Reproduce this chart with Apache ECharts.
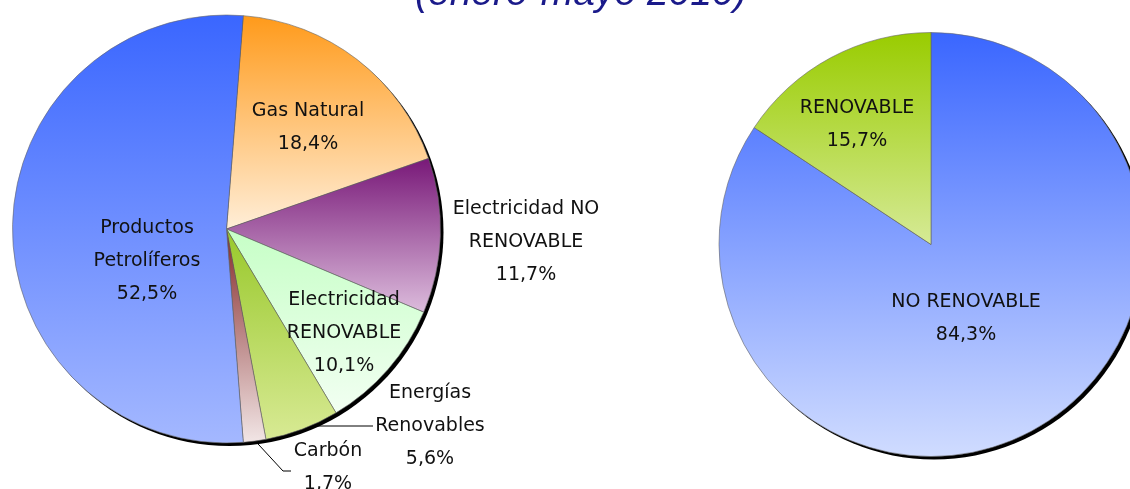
<!DOCTYPE html>
<html>
<head>
<meta charset="utf-8">
<title>Consumo de energía final (enero-mayo 2010)</title>
<script src="https://cdn.jsdelivr.net/npm/echarts@6/dist/echarts.min.js"></script>
<style>
  html, body { margin: 0; padding: 0; background: #fff; }
  #chart { width: 1130px; height: 489px; }
</style>
</head>
<body>
<div id="chart"></div>
<script>
// datos (porcentajes)
const leftNames = ['Gas Natural', 'Electricidad NO\nRENOVABLE', 'Electricidad\nRENOVABLE', 'Energías\nRenovables', 'Carbón', 'Productos\nPetrolíferos'];
const leftValues = [18.4, 11.7, 10.1, 5.6, 1.7, 52.5];
const rightNames = ['NO RENOVABLE', 'RENOVABLE'];
const rightValues = [84.3, 15.7];

// colores degradados (arriba, abajo)
const leftColors = [
    ['#ff9a1a', '#ffeed8'],
    ['#781878', '#dcbcdc'],
    ['#c6ffc6', '#f2fff2'],
    ['#98c82a', '#d8ea94'],
    ['#842828', '#f2e6e6'],
    ['#3a66ff', '#a4b8ff']
];
const rightColors = [
    ['#3a66ff', '#d0dcff'],
    ['#99cc00', '#d6ea96']
];

// posiciones de etiquetas (centro del bloque de texto)
const leftLabelAt = [[308, 128], [526, 242], [344, 333], [430, 426], [328, 468], [147, 261]];
const rightLabelAt = [[966, 319], [857, 125]];
const outsideIdx = [1, 3, 4];

const sum = arr => arr.reduce((a, b) => a + b, 0);

function grad(c) {
    return new echarts.graphic.LinearGradient(0, 0, 0, 1, [
        { offset: 0, color: c[0] },
        { offset: 1, color: c[1] }
    ]);
}

const labelStyle = {
    show: true,
    color: '#111',
    fontFamily: 'DejaVu Sans',
    fontSize: 19,
    lineHeight: 33,
    formatter: p => p.name + '\n' + p.value.toFixed(1).replace('.', ',') + '%'
};

const chart = echarts.init(document.getElementById('chart'));

chart.setOption({
    backgroundColor: '#fff',
    animation: false,
    title: {
        text: '(enero-mayo 2010)',
        left: 410,
        top: -30,
        textStyle: {
            fontFamily: 'Liberation Sans',
            fontStyle: 'italic',
            fontWeight: 'normal',
            fontSize: 39,
            color: '#1a1a8a'
        }
    },
    series: [
        // sombras
        {
            type: 'pie',
            center: [229.5, 232],
            radius: 214,
            silent: true,
            z: 1,
            label: { show: false },
            labelLine: { show: false },
            itemStyle: { color: '#000' },
            data: [{ value: sum(leftValues) }]
        },
        {
            type: 'pie',
            center: [934, 247.5],
            radius: 212,
            silent: true,
            z: 1,
            label: { show: false },
            labelLine: { show: false },
            itemStyle: { color: '#000' },
            data: [{ value: sum(rightValues) }]
        },
        {
            type: 'pie',
            center: [226.5, 229],
            radius: 214,
            startAngle: 85.5,
            clockwise: true,
            avoidLabelOverlap: false,
            z: 2,
            itemStyle: { borderColor: '#666', borderWidth: 0.6 },
            label: labelStyle,
            labelLine: { show: false, lineStyle: { color: '#000', width: 1 } },
            data: leftNames.map((n, i) => ({
                name: n,
                value: leftValues[i],
                itemStyle: { color: grad(leftColors[i]) },
                label: { position: outsideIdx.includes(i) ? 'outside' : 'inside' },
                labelLine: { show: i === 3 || i === 4 }
            })),
            labelLayout: function (p) {
                const at = leftLabelAt[p.dataIndex];
                const res = { x: at[0], y: at[1], align: 'center', verticalAlign: 'middle' };
                if (p.dataIndex === 3 && p.labelLinePoints) {
                    const s = p.labelLinePoints[0];
                    res.labelLinePoints = [[s[0] - 4, at[1]], [at[0] - 57, at[1]]];
                }
                if (p.dataIndex === 4 && p.labelLinePoints) {
                    const s = p.labelLinePoints[0];
                    res.labelLinePoints = [[s[0] - 2, s[1] - 3], [at[0] - 45, at[1] + 3], [at[0] - 37, at[1] + 3]];
                }
                return res;
            }
        },
        {
            type: 'pie',
            center: [931, 244.5],
            radius: 212,
            startAngle: 90,
            clockwise: true,
            avoidLabelOverlap: false,
            z: 2,
            itemStyle: { borderColor: '#666', borderWidth: 0.6 },
            label: Object.assign({}, labelStyle, { position: 'inside' }),
            labelLine: { show: false },
            data: rightNames.map((n, i) => ({
                name: n,
                value: rightValues[i],
                itemStyle: { color: grad(rightColors[i]) }
            })),
            labelLayout: function (p) {
                const at = rightLabelAt[p.dataIndex];
                return { x: at[0], y: at[1], align: 'center', verticalAlign: 'middle' };
            }
        }
    ]
});
</script>
</body>
</html>
